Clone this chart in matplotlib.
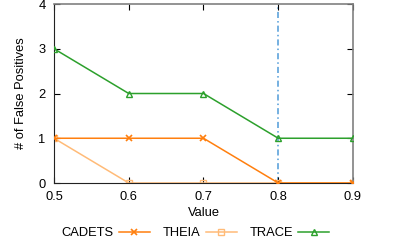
import matplotlib
matplotlib.use("Agg")
import matplotlib.pyplot as plt

# data
x_vals = [0.5, 0.6, 0.7, 0.8, 0.9]
cadets = [1, 1, 1, 0, 0]
theia = [1, 0, 0, 0, 0]
trace = [3, 2, 2, 1, 1]
chosen = 0.8

plt.rcParams['font.family'] = ['Liberation Sans', 'DejaVu Sans']
plt.rcParams['font.size'] = 9.3

fig = plt.figure(figsize=(4.07, 2.4), dpi=100)
ax = fig.add_axes([0.1327, 0.2375, 0.7346, 0.7458])

ax.plot(x_vals, cadets, color='#ff7f0e', marker='x', ms=5, mew=1.2, lw=1.1, label='CADETS', zorder=3)
ax.plot(x_vals, theia, color='#ffbb78', marker='s', ms=5, mfc='none', mew=1.0, lw=1.1, label='THEIA', zorder=2)
ax.plot(x_vals, trace, color='#2ca02c', marker='^', ms=5, mfc='none', mew=1.0, lw=1.1, label='TRACE', zorder=3)
ax.axvline(chosen, color='#4f9bd9', ls=(0, (4, 2, 1, 2)), lw=1.1, zorder=1)

ax.set_xlim(0.5, 0.9)
ax.set_ylim(0, 4)
ax.set_xticks(x_vals)
ax.set_yticks([0, 1, 2, 3, 4])
ax.tick_params(direction='in', top=True, right=True, length=4, width=0.8, labelsize=9.3)
ax.tick_params(axis='x', pad=6)
ax.tick_params(axis='y', pad=6)
for side in ['left', 'bottom']:
    ax.spines[side].set_color('#222222')
for side in ['top', 'right']:
    ax.spines[side].set_color('#808080')
    ax.spines[side].set_linewidth(1.2)
ax.set_xlabel('Value', labelpad=3)
ax.set_ylabel('# of False Positives', labelpad=8)

fig.legend(loc='lower center', bbox_to_anchor=(0.48, -0.045), ncol=3, frameon=False,
           markerfirst=False, handlelength=2.4, columnspacing=1.0, handletextpad=0.4)

fig.savefig('out.png', dpi=100)
